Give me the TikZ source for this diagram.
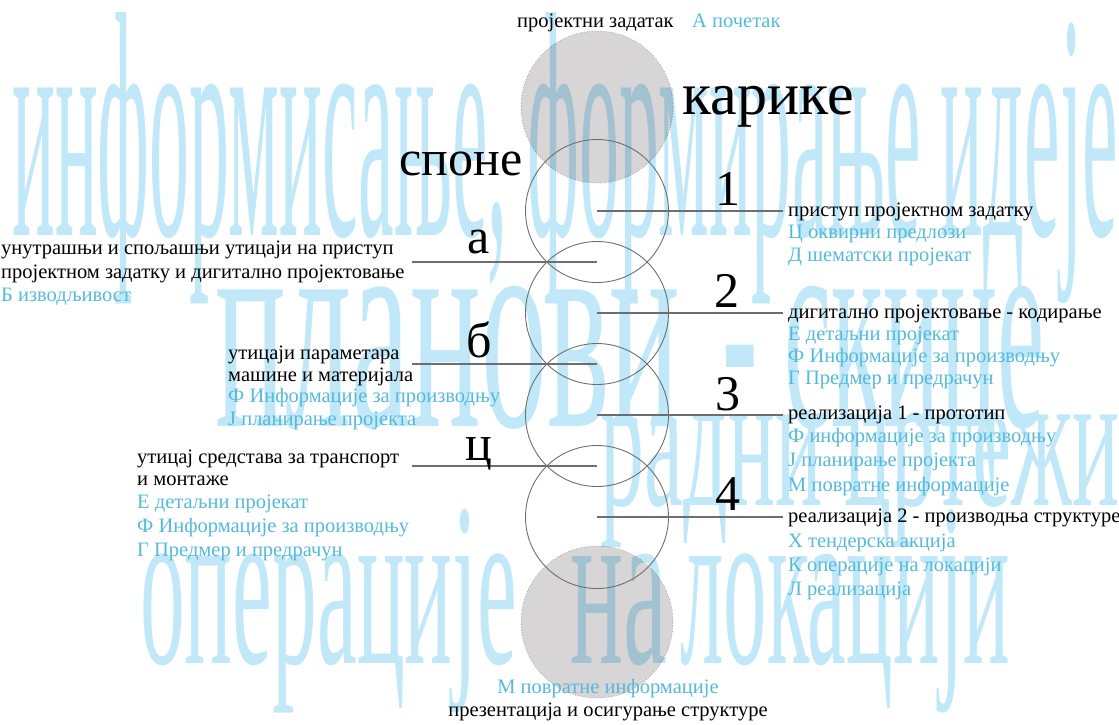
\documentclass[tikz,border=0pt]{standalone}
\usepackage{fontspec}
\setmainfont{Liberation Serif}
\usepackage{graphicx}
\usetikzlibrary{calc}
\definecolor{wmblue}{RGB}{192,232,249}
\definecolor{lblue}{RGB}{84,186,218}
\definecolor{ringgray}{RGB}{110,110,110}
\definecolor{discgray}{RGB}{216,213,215}
\definecolor{discedge}{RGB}{180,178,180}
\tikzset{
  wmtext/.style={inner sep=0pt, anchor=base west, text=wmblue},
  small/.style={inner sep=0pt, anchor=base west, font=\fontsize{20.5}{24}\selectfont},
  blk/.style={small, text=black},
  blu/.style={small, text=lblue},
  bigtxt/.style={inner sep=0pt, anchor=base, font=\fontsize{50}{50}\selectfont},
  ring/.style={circle, draw=ringgray, line width=0.9pt, minimum size=143pt, inner sep=0pt},
  disc/.style={circle, fill=discgray, draw=discedge, dotted, line width=0.8pt, minimum size=152pt, inner sep=0pt},
  link/.style={draw=ringgray, line width=1.1pt},
}
\begin{document}
\begin{tikzpicture}[x=1pt,y=-1pt]
\useasboundingbox (0,0) rectangle (1119,724);
% watermark
\node[wmtext] (w1) at (12,235) {\resizebox{1105pt}{223pt}{информисање, формирање идеје}};
\node[wmtext] (w2a) at (215,426) {\resizebox{465pt}{140pt}{\vphantom{о}планови}};
\node[wmtext] (w2b) at (722,426) {\resizebox{322pt}{140pt}{\vphantom{о}- скице}};
\node[wmtext] (w3) at (600,505) {\resizebox{519pt}{93pt}{\vphantom{о}радни цртежи}};
\node[wmtext] (w4a) at (140,663) {\resizebox{377pt}{154pt}{\vphantom{ј}операције}};
\node[wmtext] (w4b) at (570,663) {\resizebox{97pt}{154pt}{\vphantom{ј}на}};
\node[wmtext] (w4c) at (680,663) {\resizebox{330pt}{154pt}{\vphantom{ј}локацији}};
% grey discs
\begin{scope}[blend mode=multiply]
\node[disc] (dtop) at (597,107) {};
\node[disc] (dbot) at (597,622) {};
\end{scope}
% rings
\node[ring] (c1) at (597,211) {};
\node[ring] (c2) at (597,313) {};
\node[ring] (c3) at (597,415) {};
\node[ring] (c4) at (597,517) {};
% connector ends
\coordinate (r1) at (783,211);
\coordinate (r2) at (783,313);
\coordinate (r3) at (783,415);
\coordinate (r4) at (783,517);
\coordinate (l1) at (412,262);
\coordinate (l2) at (412,364);
\coordinate (l3) at (412,466);
\draw[link] (c1.center) -- (r1);
\draw[link] (c2.center) -- (r2);
\draw[link] (c3.center) -- (r3);
\draw[link] (c4.center) -- (r4);
\draw[link] (l1) -- ($(c1.center)!0.5!(c2.center)$);
\draw[link] (l2) -- ($(c2.center)!0.5!(c3.center)$);
\draw[link] (l3) -- ($(c3.center)!0.5!(c4.center)$);
% big labels
\node[bigtxt] (spone) at (461,175) {споне};
\node[bigtxt, font=\fontsize{60}{60}\selectfont] (karike) at (768,114) {карике};
\node[bigtxt] (n1) at (728,205) {1};
\node[bigtxt] (n2) at (727,307) {2};
\node[bigtxt] (n3) at (728,410) {3};
\node[bigtxt] (n4) at (728,510) {4};
\node[bigtxt] (la) at (479,253) {а};
\node[bigtxt] (lb) at (479,357) {б};
\node[bigtxt] (lc) at (479,460) {ц};
% top
\node[blk] (pz) at (517,27) {пројектни задатак};
\node[blu] (ap) at (692,27) {А почетак};
% right column
\node[blk] (t1) at (788,216) {приступ пројектном задатку};
\node[blu] (t1a) at (788,238) {Ц оквирни предлози};
\node[blu] (t1b) at (788,261) {Д шематски пројекат};
\node[blk] (t2) at (788,318) {дигитално пројектовање - кодирање};
\node[blu] (t2a) at (788,340) {Е детаљни пројекат};
\node[blu] (t2b) at (788,362) {Ф Информације за производњу};
\node[blu] (t2c) at (788,384) {Г Предмер и предрачун};
\node[blk] (t3) at (788,419) {реализација 1 - прототип};
\node[blu] (t3a) at (788,442) {Ф информације за производњу};
\node[blu] (t3b) at (788,466) {Ј планирање пројекта};
\node[blu] (t3c) at (788,491) {М повратне информације};
\node[blk] (t4) at (788,522) {реализација 2 - производња структуре};
\node[blu] (t4a) at (788,547) {Х тендерска акција};
\node[blu] (t4b) at (788,571) {К операције на локацији};
\node[blu] (t4c) at (788,595) {Л реализација};
% left column
\node[blk] (s1) at (1,254) {унутрашњи и спољашњи утицаји на приступ};
\node[blk] (s1b) at (1,278) {пројектном задатку и дигитално пројектовање};
\node[blu] (s1c) at (1,301) {Б изводљивост};
\node[blk] (s2) at (228,359) {утицаји параметара};
\node[blk] (s2b) at (228,381) {машине и материјала};
\node[blu] (s2c) at (228,402) {Ф Информације за производњу};
\node[blu] (s2d) at (228,425) {Ј планирање пројекта};
\node[blk] (s3) at (137,463) {утицај средстава за транспорт};
\node[blk] (s3b) at (137,485) {и монтаже};
\node[blu] (s3c) at (137,508) {Е детаљни пројекат};
\node[blu] (s3d) at (137,532) {Ф Информације за производњу};
\node[blu] (s3e) at (137,556) {Г Предмер и предрачун};
% bottom
\node[blu, anchor=base] (fb) at (608,693) {М повратне информације};
\node[blk, anchor=base] (pr) at (608,716) {презентација и осигурање структуре};
\end{tikzpicture}
\end{document}
